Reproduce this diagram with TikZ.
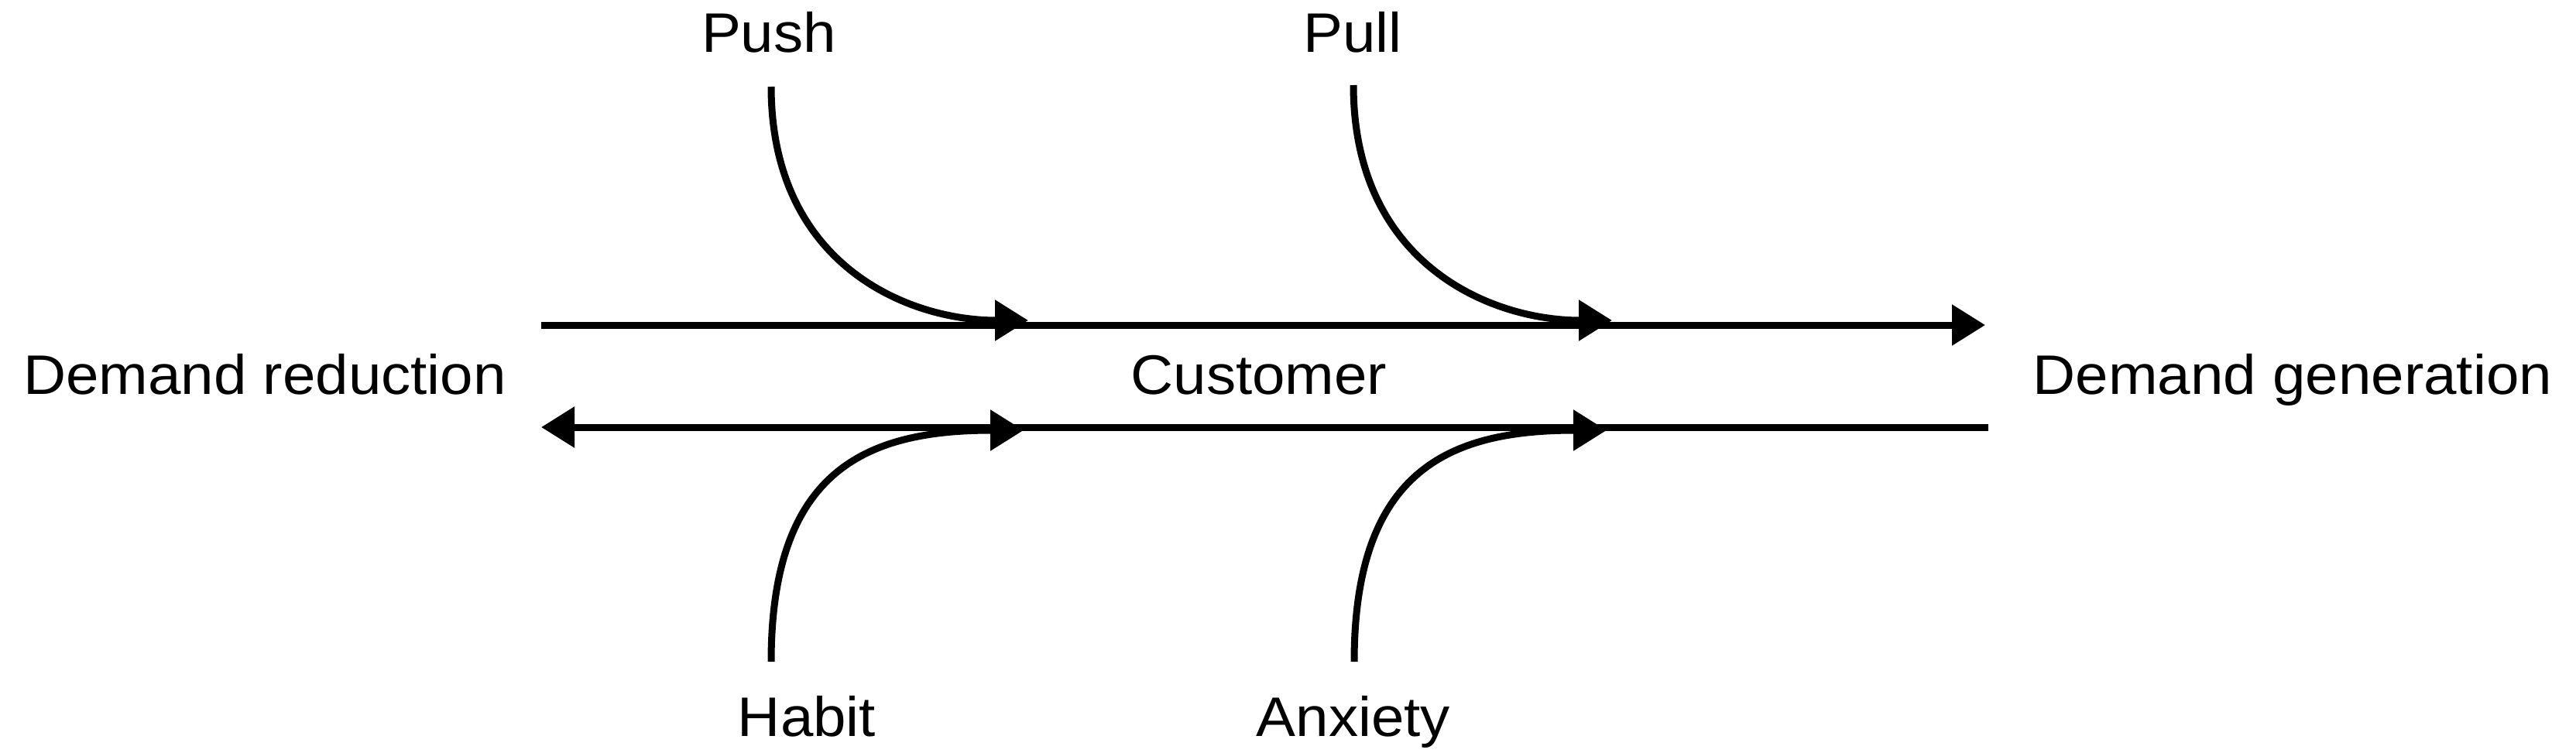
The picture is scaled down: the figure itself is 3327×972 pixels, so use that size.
\documentclass[tikz,border=0pt]{standalone}
\usepackage{fontspec}
\newfontfamily\labfont{Liberation Sans}[FakeStretch=1.06]
\usetikzlibrary{arrows.meta,calc}
\begin{document}
\begin{tikzpicture}[x=1pt,y=-1pt,
  lab/.style={inner sep=0pt, anchor=base, font=\labfont\fontsize{72}{86}\selectfont},
  flow/.style={line width=9pt, line cap=butt, -{Triangle[length=43pt,width=51pt]}}]
\useasboundingbox (0,0) rectangle (3327,972);
% labels
\node[lab] (push) at (993,67) {Push};
\node[lab] (pull) at (1747,67) {Pull};
\node[lab] (red) at (342,509) {Demand reduction};
\node[lab] (cust) at (1626,509) {Customer};
\node[lab] (gen) at (2961,509) {Demand generation};
\node[lab] (habit) at (1042,951) {Habit};
\node[lab] (anx) at (1748,951) {Anxiety};
% line end points
\coordinate (tl) at (699,420);
\coordinate (tr) at (2564,420);
\coordinate (bl) at (699,552);
\coordinate (br) at (2568,552);
\coordinate (pushS) at (996,112);
\coordinate (pushE) at (1328,414);
\coordinate (pullS) at (1748,110);
\coordinate (pullE) at (2082,414);
\coordinate (habS) at (996,855);
\coordinate (habE) at (1322,556);
\coordinate (anxS) at (1749,855);
\coordinate (anxE) at (2075,556);
% main lines
\draw[flow] (tl) -- (tr);
\draw[flow] (br) -- (bl);
% influence curves
\draw[flow] (pushS) .. controls ($(pushS)+(0,228)$) and ($(pushE)+(-158,0)$) .. (pushE);
\draw[flow] (pullS) .. controls ($(pullS)+(0,230)$) and ($(pullE)+(-158,0)$) .. (pullE);
\draw[flow] (habS) .. controls ($(habS)+(0,-250)$) and ($(habE)+(-200,0)$) .. (habE);
\draw[flow] (anxS) .. controls ($(anxS)+(0,-250)$) and ($(anxE)+(-200,0)$) .. (anxE);
\end{tikzpicture}
\end{document}
